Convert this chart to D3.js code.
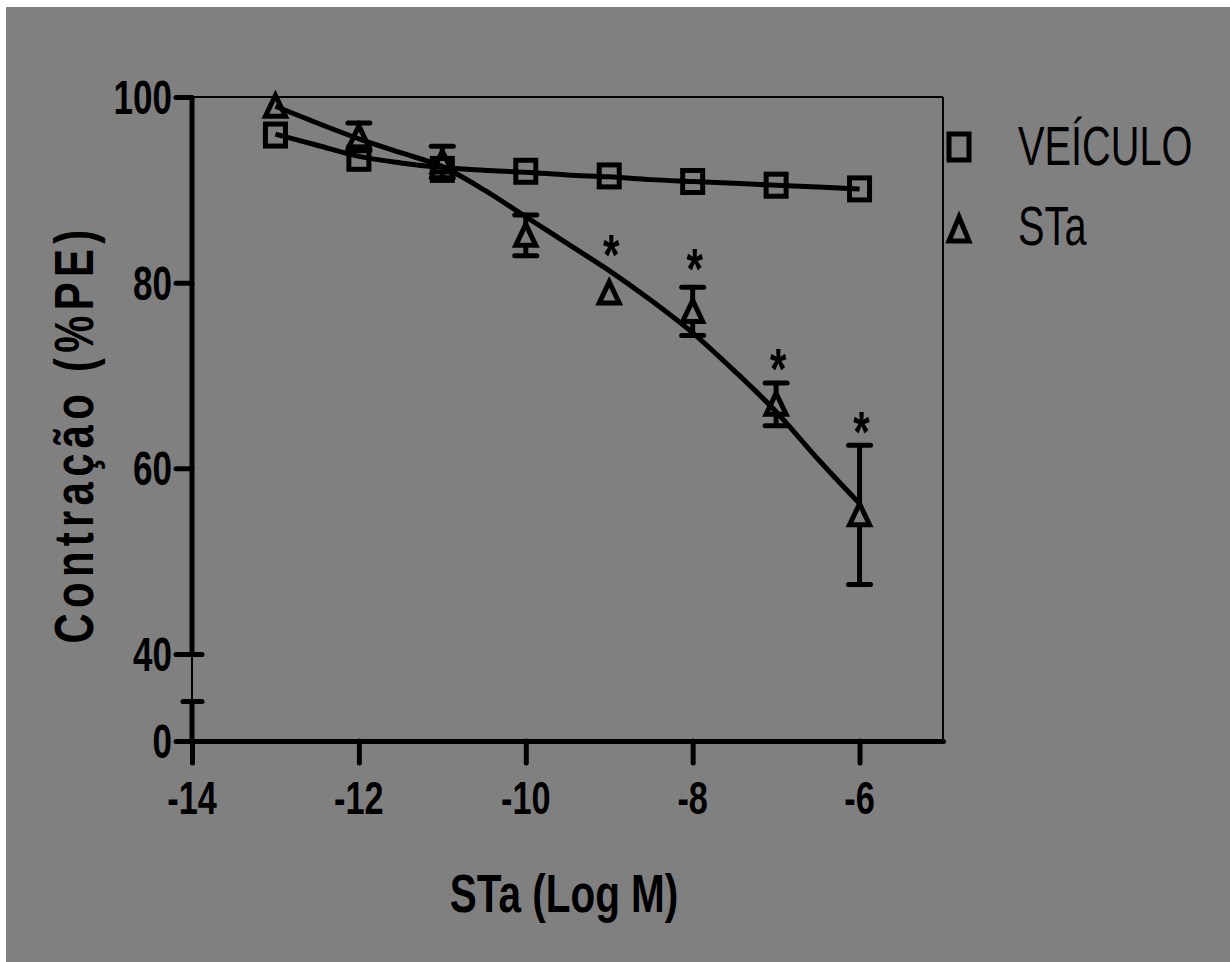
<!DOCTYPE html>
<html><head><meta charset="utf-8">
<script src="https://cdn.jsdelivr.net/npm/d3@7"></script>
<style>body{margin:0;background:#fff}svg{display:block}text{font-family:"Liberation Sans",Arial,sans-serif;fill:#000}</style>
</head><body>
<svg id="c" width="1230" height="962"></svg>
<script>
// ---- data ----
const doses = [-13, -12, -11, -10, -9, -8, -7, -6];
const veiculoMean = [95.9, 93.4, 92.2, 92.0, 91.5, 90.9, 90.5, 90.1];
const veiculoErr  = [0.6, 0.6, 0.6, 0.5, 0.5, 0.5, 0.5, 0.5];
const staMean = [99.0, 95.7, 93.0, 85.1, 78.9, 76.9, 66.9, 55.0];
const staErr  = [0.5, 1.5, 1.7, 2.2, 0.8, 2.6, 2.3, 7.5];
const starDoses  = [-9, -8, -7, -6];
const starLevels = [84.3, 82.8, 72.0, 65.2];
const curveX       = [-13, -12.5, -12, -11.5, -11, -10.5, -10, -9.5, -9, -8.5, -8, -7.5, -7, -6.5, -6];
const veiculoCurve = [96.0, 94.8, 93.6, 92.9, 92.4, 92.1, 91.9, 91.6, 91.4, 91.1, 90.9, 90.7, 90.5, 90.3, 90.1];
const staCurve     = [99.0, 97.2, 95.5, 94.0, 92.5, 90.0, 87.1, 84.2, 81.3, 78.1, 74.6, 70.5, 66.1, 61.0, 56.2];
const xTicks = [-14, -12, -10, -8, -6];
const yTicksLabeled = [0, 40, 60, 80, 100];
const yBreakTick = 30;
const seriesNames = ["VEÍCULO", "STa"];
const xTitle = "STa (Log M)";
const yTitle = "Contração (%PE)";

// ---- drawing ----
const svg = d3.select("#c");
svg.append("rect").attr("x", 6).attr("y", 7).attr("width", 1224).attr("height", 955).attr("fill", "#808080");

const x = d3.scaleLinear().domain([-14, -5]).range([192, 943]);
const y = d3.scaleLinear().domain([0, yBreakTick, 40, 100]).range([741, 701, 654, 97]);

// thin frame (top/right)
svg.append("line").attr("x1", x(-14)).attr("x2", x(-5)).attr("y1", y(100)).attr("y2", y(100)).attr("stroke", "#000").attr("stroke-width", 2);
svg.append("line").attr("x1", x(-5)).attr("x2", x(-5)).attr("y1", y(100)).attr("y2", y(0)).attr("stroke", "#000").attr("stroke-width", 2);

// x axis
const gx = svg.append("g").attr("transform", `translate(0,${y(0)})`)
  .call(d3.axisBottom(x).tickValues(xTicks).tickSize(22).tickSizeOuter(0).tickFormat(""));
gx.select(".domain").attr("stroke", "#000").attr("stroke-width", 5).attr("stroke-linecap", "round");
gx.selectAll(".tick line").attr("stroke", "#000").attr("stroke-width", 5).attr("stroke-linecap", "round");

svg.append("g").selectAll("text").data(xTicks).join("text")
  .attr("transform", d => `translate(${x(d)},${y(0) + 73}) scale(0.73,1)`)
  .attr("text-anchor", "middle").attr("font-size", 47).attr("font-weight", "bold")
  .text(d => d);

// y axis (broken)
const ax0 = x(-14);
[[100, 40, 5], [40, yBreakTick, 2], [yBreakTick, 0, 5]].forEach(([a, b, w]) => {
  svg.append("line").attr("x1", ax0).attr("x2", ax0).attr("y1", y(a)).attr("y2", y(b))
    .attr("stroke", "#000").attr("stroke-width", w);
});
const gy = svg.append("g").attr("transform", `translate(${ax0},0)`)
  .call(d3.axisLeft(y).tickValues([0, yBreakTick, 40, 60, 80, 100]).tickSize(16).tickFormat(""));
gy.select(".domain").remove();
gy.selectAll(".tick line").attr("stroke", "#000").attr("stroke-width", 5).attr("stroke-linecap", "round")
  .attr("x2", d => (d === yBreakTick || d === 40) ? 10 : -16)
  .attr("x1", d => d === yBreakTick ? -9 : (d === 40 ? -16 : 0));

svg.append("g").selectAll("text").data(yTicksLabeled).join("text")
  .attr("transform", d => `translate(172,${y(d) + 17}) scale(0.73,1)`)
  .attr("text-anchor", "end").attr("font-size", 48).attr("font-weight", "bold")
  .text(d => d);

// titles
svg.append("text").attr("transform", `translate(564,912) scale(0.75,1)`)
  .attr("text-anchor", "middle").attr("font-size", 54).attr("font-weight", "bold").text(xTitle);
svg.append("text").attr("transform", `translate(93,434) rotate(-90) scale(0.76,1)`)
  .attr("text-anchor", "middle").attr("font-size", 55).attr("font-weight", "bold")
  .attr("letter-spacing", 7).text(yTitle);

// curves
const line = d3.line().x(d => x(d[0])).y(d => y(d[1])).curve(d3.curveMonotoneX);
[veiculoCurve, staCurve].forEach(c => {
  svg.append("path").attr("d", line(curveX.map((v, i) => [v, c[i]])))
    .attr("fill", "none").attr("stroke", "#000").attr("stroke-width", 5).attr("stroke-linejoin", "round");
});

// error bars (only visible beyond the marker)
function errorBars(means, errs, half) {
  const g = svg.append("g").attr("stroke", "#000").attr("stroke-width", 5).attr("stroke-linecap", "round");
  doses.forEach((d, i) => {
    const cx = x(d), cy = y(means[i]);
    const top = y(means[i] + errs[i]), bot = y(means[i] - errs[i]);
    if (cy - top > half) {
      g.append("line").attr("x1", cx).attr("x2", cx).attr("y1", top).attr("y2", cy - half);
      g.append("line").attr("x1", cx - 11).attr("x2", cx + 11).attr("y1", top).attr("y2", top);
    }
    if (bot - cy > half) {
      g.append("line").attr("x1", cx).attr("x2", cx).attr("y1", cy + half).attr("y2", bot);
      g.append("line").attr("x1", cx - 11).attr("x2", cx + 11).attr("y1", bot).attr("y2", bot);
    }
  });
}
errorBars(veiculoMean, veiculoErr, 12);
errorBars(staMean, staErr, 11);

// markers
const tri = "M0,-11L10,10L-10,10Z";
svg.append("g").selectAll("rect").data(doses).join("rect")
  .attr("x", d => x(d) - 10).attr("y", (d, i) => y(veiculoMean[i]) - 11)
  .attr("width", 20).attr("height", 22)
  .attr("fill", "none").attr("stroke", "#000").attr("stroke-width", 5);
svg.append("g").selectAll("path").data(doses).join("path")
  .attr("transform", (d, i) => `translate(${x(d)},${y(staMean[i])})`)
  .attr("d", tri).attr("fill", "none").attr("stroke", "#000").attr("stroke-width", 5).attr("stroke-linejoin", "miter");

// significance stars
svg.append("g").selectAll("text").data(starDoses).join("text")
  .attr("transform", (d, i) => `translate(${x(d) + 2},${y(starLevels[i]) + 32}) scale(0.73,1)`)
  .attr("text-anchor", "middle").attr("font-size", 58).attr("font-weight", "bold").text("*");

// legend
const lg = svg.append("g");
lg.append("rect").attr("x", 949).attr("y", 134).attr("width", 20).attr("height", 26)
  .attr("fill", "none").attr("stroke", "#000").attr("stroke-width", 5);
lg.append("path").attr("transform", "translate(959,229)").attr("d", "M0,-12L10,12L-10,12Z")
  .attr("fill", "none").attr("stroke", "#000").attr("stroke-width", 5);
lg.selectAll("text").data(seriesNames).join("text")
  .attr("transform", (d, i) => `translate(1018,${165 + i * 80}) scale(0.71,1)`)
  .attr("font-size", 56).text(d => d);
</script>
</body></html>
